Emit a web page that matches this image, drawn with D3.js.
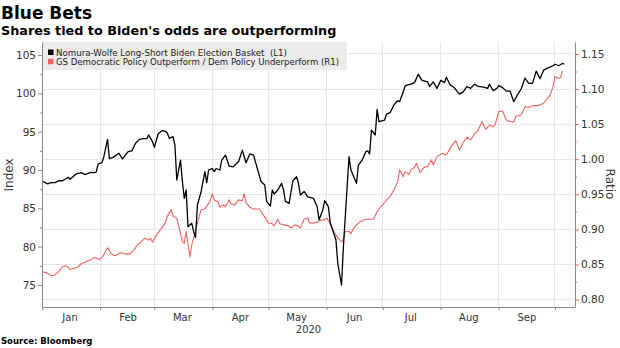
<!DOCTYPE html>
<html><head><meta charset="utf-8">
<script src="https://cdn.jsdelivr.net/npm/d3@7"></script>
<style>body{margin:0;background:#fff}svg{display:block}text{font-family:"DejaVu Sans",sans-serif}</style>
</head><body><svg id="c" width="620" height="348"></svg>
<script>
// ---- data ----
const startYear = 2020;
const blackDay = [0,3,5,7,9,11,14,15,18,21,
23,26,28,29,30,32,33,35,36,38,
41,43,46,48,50,52,54,56,57,59,
60,62,64,66,67,68,70,71,72,74,
75,76,77,78,80,81,82,83,85,87,
88,89,91,92,93,95,96,98,100,102,
105,107,109,111,113,115,117,119,120,122,
123,124,126,128,129,130,132,134,136,137,
138,140,142,145,147,148,150,151,153,154,
157,158,160,161,164,165,168,169,171,173,
174,175,176,178,179,180,183,184,186,188,
190,191,193,194,197,199,201,203,206,207,
209,211,213,215,216,218,220,222,223,225,
227,229,231,233,236,238,239,241,243,244,
246,248,250,252,254,256,258,260,262,264,
266,268,270,273,274,276,278,279];
const blackVal = [88.57,88.2,88.35,88.35,88.6,88.6,89.05,88.8,89.45,89.65,
89.4,89.7,89.65,89.74,90.8,90.95,91.7,94.0,91.5,91.65,
92.2,91.45,92.4,92.5,93.5,94.0,94.1,94.1,94.57,93.7,
92.96,94.7,95.13,95.05,94.8,94.13,94.35,93.26,88.7,91.3,
88.5,86.3,87.4,82.6,83.05,81.96,81.2,85.4,87.2,89.8,
88.35,90.0,90.2,89.8,90.2,90.0,91.3,91.95,90.5,90.4,
91.1,92.6,90.95,92.1,91.95,90.2,88.5,88.04,85.9,85.3,
87.4,86.87,87.4,88.26,87.4,85.9,85.65,88.6,89.13,88.26,
86.74,87.2,86.5,86.3,85.2,83.5,84.8,86.0,85.2,83.05,
80.9,77.8,75.0,80.0,91.74,90.0,88.26,90.65,91.3,92.4,
92.5,92.1,95.2,94.57,97.9,96.3,96.5,97.3,97.5,98.5,
99.04,98.9,100.2,101.0,101.2,101.4,102.5,101.7,101.5,100.9,
101.5,100.65,101.7,101.4,102.1,101.1,100.8,100.2,99.9,100.2,
100.9,100.65,101.2,100.9,100.8,100.65,101.2,100.35,100.65,101.0,
100.75,100.3,100.3,98.9,99.8,100.6,102.0,101.3,101.3,102.9,
101.9,103.04,103.3,103.6,103.8,103.6,103.9,103.8];

const redDay = [0,3,5,7,9,11,13,15,17,19,
21,23,26,28,31,33,35,37,39,42,
44,47,49,51,52,55,57,58,59,61,
64,66,67,69,70,72,73,75,76,77,
79,80,81,83,85,87,89,90,91,92,
94,95,97,98,100,101,103,105,107,108,
109,111,113,116,117,119,121,123,124,126,
127,130,132,133,135,137,138,140,142,143,
145,147,149,150,152,154,156,158,160,161,
162,164,165,167,170,172,174,177,179,181,
183,184,186,188,190,191,193,194,196,197,
199,200,202,204,206,208,209,211,214,216,
218,221,223,225,227,229,231,233,235,237,
239,241,242,244,246,248,250,252,253,256,
258,260,262,265,268,270,271,273,274,276,
277,278];
const redVal = [0.840,0.8376,0.8338,0.835,0.840,0.847,0.848,0.843,0.8445,0.846,
0.851,0.853,0.8566,0.860,0.857,0.8637,0.874,0.865,0.8623,0.867,
0.865,0.865,0.870,0.878,0.880,0.8875,0.8845,0.8875,0.8815,0.892,
0.9017,0.910,0.919,0.9278,0.919,0.916,0.905,0.8826,0.880,0.897,
0.861,0.878,0.8875,0.909,0.928,0.929,0.937,0.942,0.9506,0.942,
0.9395,0.9316,0.935,0.9325,0.942,0.9363,0.935,0.942,0.941,0.9506,
0.938,0.9316,0.929,0.929,0.9255,0.9174,0.909,0.908,0.905,0.9145,
0.908,0.906,0.9046,0.9017,0.9065,0.9046,0.9017,0.9145,0.916,0.909,
0.909,0.910,0.9136,0.9126,0.916,0.909,0.897,0.8875,0.8826,0.885,
0.897,0.897,0.8936,0.904,0.911,0.9136,0.9145,0.9145,0.925,0.9325,
0.938,0.942,0.9467,0.9563,0.968,0.9848,0.9753,0.9823,0.978,0.9848,
0.9886,0.9943,0.981,0.988,0.990,0.999,0.992,1.0037,1.0085,1.006,
1.0157,1.0265,1.0133,1.024,1.0313,1.0275,1.036,1.0416,1.0536,1.0426,
1.0487,1.0463,1.049,1.0678,1.0688,1.056,1.0537,1.0527,1.0608,1.0631,
1.075,1.0736,1.0764,1.0764,1.0798,1.0869,1.0892,1.1034,1.1177,1.1154,
1.1163,1.1258];

const monthLabels = ["Jan","Feb","Mar","Apr","May","Jun","Jul","Aug","Sep"];
const leftTicks = [75,80,85,90,95,100,105];
const rightTicks = [0.80,0.85,0.90,0.95,1.00,1.05,1.10,1.15];
const legendLabels = ["Nomura-Wolfe Long-Short Biden Election Basket\u00a0 (L1)",
  "GS Democratic Policy Outperform / Dem Policy Underperform (R1)"];
const title = "Blue Bets";
const subtitle = "Shares tied to Biden's odds are outperforming";
const source = "Source: Bloomberg";

// ---- chart ----
const RED = "#f0615e", GRID = "#e6e6e6", AX = "#8a8a8a", TXT = "#333";
const svg = d3.select("#c");
const t0 = new Date(startYear,0,1);
const dayToDate = d => d3.timeDay.offset(t0, d);
const L = 42, R = 575, T = 42, B = 307;
const x = d3.scaleTime().domain([t0, new Date(startYear,9,11,17)]).range([L,R]);
const yL = d3.scaleLinear().domain([72.13,106.7]).range([B,T]);
const yR = d3.scaleLinear().domain([0.7893,1.1671]).range([B,T]);

const blackData = blackDay.map((d,i)=>({date:dayToDate(d), v:blackVal[i]}));
const redData = redDay.map((d,i)=>({date:dayToDate(d), v:redVal[i]}));

// grid
const monthStarts = d3.timeMonth.range(new Date(startYear,1,1), new Date(startYear,9,2));
svg.append("g").selectAll("line").data(monthStarts).join("line")
  .attr("x1",d=>x(d)).attr("x2",d=>x(d)).attr("y1",T).attr("y2",B)
  .attr("stroke",GRID).attr("stroke-width",1).attr("shape-rendering","crispEdges");
svg.append("g").selectAll("line").data(rightTicks).join("line")
  .attr("x1",L).attr("x2",R).attr("y1",d=>yR(d)).attr("y2",d=>yR(d))
  .attr("stroke",GRID).attr("stroke-width",1).attr("shape-rendering","crispEdges");

// lines
svg.append("path").datum(redData)
  .attr("d", d3.line().x(d=>x(d.date)).y(d=>yR(d.v)))
  .attr("fill","none").attr("stroke",RED).attr("stroke-width",1.1).attr("stroke-linejoin","round");
svg.append("path").datum(blackData)
  .attr("d", d3.line().x(d=>x(d.date)).y(d=>yL(d.v)))
  .attr("fill","none").attr("stroke","#000").attr("stroke-width",1.3).attr("stroke-linejoin","round");

// legend
svg.append("rect").attr("x",L).attr("y",T).attr("width",305).attr("height",28).attr("fill","#ebebeb");
const leg = svg.append("g");
[["#000",0],[RED,1]].forEach(([c,i])=>{
  leg.append("rect").attr("x",48).attr("y",49.5+i*9.3).attr("width",5.5).attr("height",5.5).attr("fill",c);
  leg.append("text").attr("x",56).attr("y",55.8+i*9.3).attr("font-size",8.8).attr("fill","#222")
    .attr("textLength", i===0?231:283).attr("lengthAdjust","spacingAndGlyphs")
    .text(legendLabels[i]);
});

// left axis
const gL = svg.append("g").attr("transform",`translate(${L},0)`)
  .call(d3.axisLeft(yL).tickValues(leftTicks).tickSize(4).tickSizeOuter(0).tickPadding(2).tickFormat(d3.format("d")));
gL.select(".domain").attr("stroke",AX);
gL.selectAll(".tick line").attr("stroke",AX);
gL.selectAll(".tick text").attr("font-size",10.5).attr("fill",TXT).attr("font-family","DejaVu Sans");
svg.append("g").attr("transform",`translate(${L},0)`)
  .call(d3.axisLeft(yL).tickValues(leftTicks.slice(0,-1).map(d=>d+2.5)).tickSize(2).tickSizeOuter(0).tickFormat(""))
  .call(g=>{g.select(".domain").remove(); g.selectAll("line").attr("stroke",AX);});

// right axis
const gR = svg.append("g").attr("transform",`translate(${R},0)`)
  .call(d3.axisRight(yR).tickValues(rightTicks).tickSize(4).tickSizeOuter(0).tickPadding(2).tickFormat(d3.format(".2f")));
gR.select(".domain").attr("stroke",RED);
gR.selectAll(".tick line").attr("stroke",RED);
gR.selectAll(".tick text").attr("font-size",10.5).attr("fill",TXT).attr("font-family","DejaVu Sans");
svg.append("g").attr("transform",`translate(${R},0)`)
  .call(d3.axisRight(yR).tickValues(rightTicks.slice(0,-1).map(d=>d+0.025)).tickSize(2).tickSizeOuter(0).tickFormat(""))
  .call(g=>{g.select(".domain").remove(); g.selectAll("line").attr("stroke",RED);});

// bottom axis
const gB = svg.append("g").attr("transform",`translate(0,${B})`)
  .call(d3.axisBottom(x).tickValues(d3.timeMonth.range(t0,new Date(startYear,9,2))).tickSize(3).tickSizeOuter(0).tickFormat(""));
gB.select(".domain").attr("stroke",AX);
gB.selectAll(".tick line").attr("stroke",AX);
const monthMid = monthLabels.map((m,i)=>new Date(startYear,i,16));
svg.append("g").selectAll("text").data(monthLabels).join("text")
  .attr("x",(d,i)=>x(monthMid[i])).attr("y",320.5).attr("text-anchor","middle")
  .attr("font-size",10).attr("fill",TXT).text(d=>d);
svg.append("text").attr("x",(L+R)/2).attr("y",333).attr("text-anchor","middle")
  .attr("font-size",10).attr("fill",TXT).text(String(startYear));

// axis titles
svg.append("text").attr("transform","translate(13,175) rotate(-90)").attr("text-anchor","middle")
  .attr("font-size",12).attr("fill",TXT).text("Index");
svg.append("text").attr("transform","translate(606,184) rotate(90)").attr("text-anchor","middle")
  .attr("font-size",12).attr("fill",TXT).text("Ratio");

// titles
svg.append("text").attr("x",1).attr("y",19.3).attr("font-size",17).attr("font-weight","bold").attr("fill","#000").text(title);
svg.append("text").attr("x",1).attr("y",35).attr("font-size",12.8).attr("font-weight","bold").attr("fill","#000").text(subtitle);
svg.append("text").attr("x",1).attr("y",344).attr("font-size",8.5).attr("font-weight","bold").attr("fill","#000").text(source);
</script></body></html>
